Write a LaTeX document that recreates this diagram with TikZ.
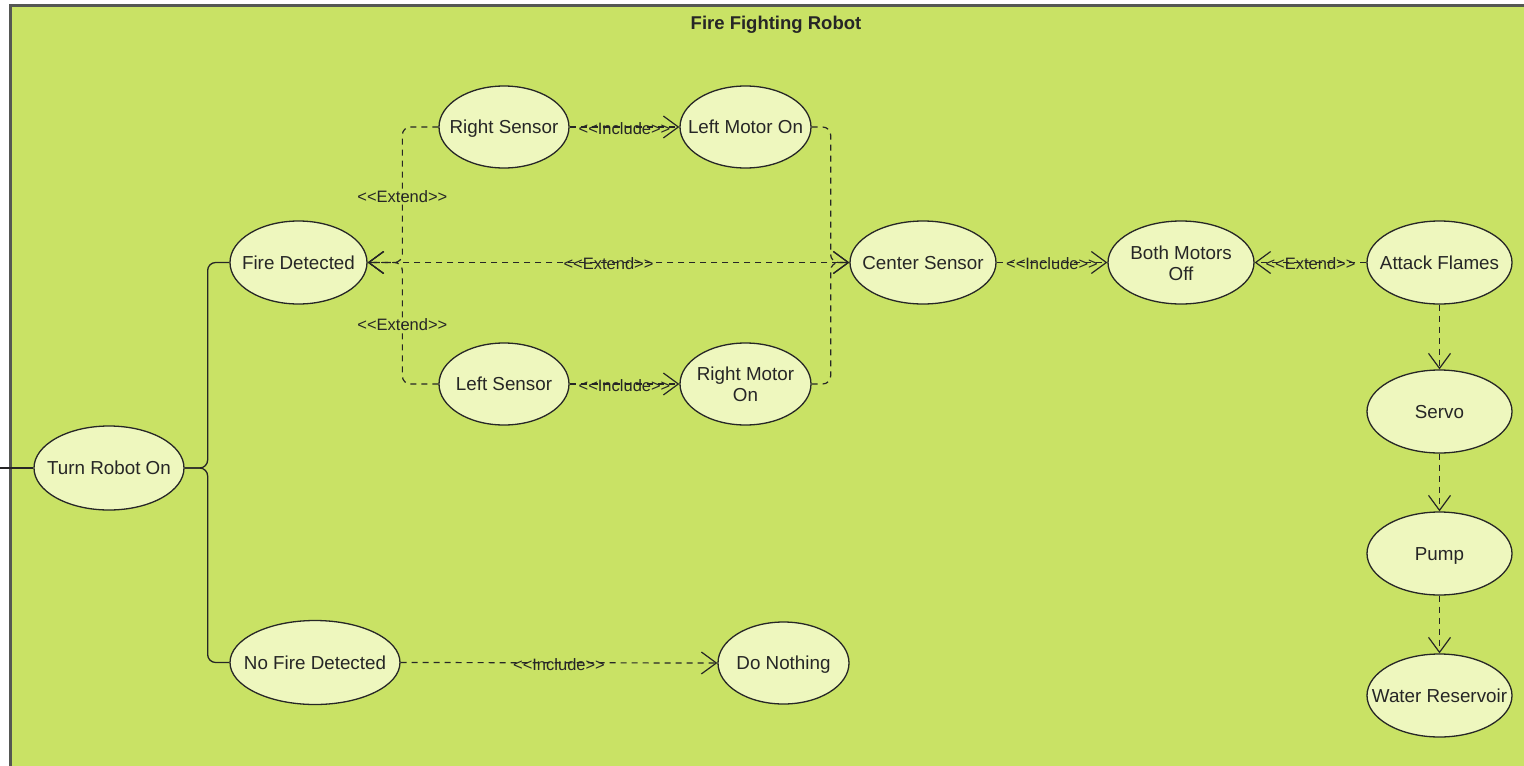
\documentclass[tikz,border=0pt]{standalone}
\usepackage{fontspec}
\setmainfont{Liberation Sans}
\usetikzlibrary{shapes.geometric,arrows.meta}
\definecolor{bg}{HTML}{C9E265}
\definecolor{ucfill}{HTML}{EEF7BE}
\definecolor{framecol}{HTML}{555753}
\definecolor{ink}{HTML}{262626}
\newcommand\uct[1]{\makebox[0pt]{\raisebox{-6.5pt}[0pt][0pt]{#1}}}
\newcommand\uctt[2]{\makebox[0pt]{\raisebox{-7.5pt}[0pt][0pt]{\begin{tabular}{@{}c@{}}#1\\#2\end{tabular}}}}
\tikzset{
  uc/.style={ellipse, draw=ink, line width=1.3pt, fill=ucfill, inner sep=0pt,
    minimum width=#1, minimum height=83pt, text=ink,
    font=\fontsize{18.8}{21}\selectfont},
  uc/.default=146pt,
  conn/.style={draw=ink, line width=1.3pt, rounded corners=8pt},
  dep/.style={draw=ink, line width=1.2pt, dash pattern=on 6pt off 5pt, rounded corners=8pt,
    -{Straight Barb[length=15pt,width=22pt,line width=1.2pt]}},
  lbl/.style={inner sep=0pt, text=ink, font=\fontsize{16.5}{18}\selectfont, yshift=-1.5pt},
  ttl/.style={inner sep=0pt, text=ink, font=\fontsize{18.5}{21}\selectfont\bfseries}
}
\begin{document}
\begin{tikzpicture}[x=1pt,y=-1pt]
\useasboundingbox (0,0) rectangle (1524,766);
\clip (0,0) rectangle (1524,766);
\fill[white] (0,0) rectangle (1524,766);
\draw[draw=framecol, line width=2.5pt, fill=bg] (10.5,5.5) rectangle (1545,790);

\node[ttl] (title) at (776,25) {Fire Fighting Robot};

\node[uc=150pt, minimum height=84pt] (tro) at (109,468) {\uct{Turn Robot On}};
\node[uc=137pt] (fd) at (298.5,262.5) {\uct{Fire Detected}};
\node[uc=170pt, minimum height=84pt] (nfd) at (315,662.5) {\uct{No Fire Detected}};
\node[uc=130pt, minimum height=82pt] (rs) at (504,127) {\uct{Right Sensor}};
\node[uc=131pt, minimum height=82pt] (lmo) at (745.5,127) {\uct{Left Motor On}};
\node[uc=130pt, minimum height=82pt] (ls) at (504,384) {\uct{Left Sensor}};
\node[uc=131pt, minimum height=82pt] (rmo) at (745.5,384) {\uctt{Right Motor}{On}};
\node[uc=146pt] (cs) at (923,262.5) {\uct{Center Sensor}};
\node[uc=146pt] (bmo) at (1181,262.5) {\uctt{Both Motors}{Off}};
\node[uc=145pt] (af) at (1439.5,262.5) {\uct{Attack Flames}};
\node[uc=145pt] (servo) at (1439.5,411.5) {\uct{Servo}};
\node[uc=145pt] (pump) at (1439.5,553.5) {\uct{Pump}};
\node[uc=145pt] (wr) at (1439.5,695.5) {\uct{Water Reservoir}};
\node[uc=131pt, minimum height=82pt] (dn) at (783.5,663) {\uct{Do Nothing}};

\coordinate (actor) at (0,468);
\draw[conn] (actor) -- (tro.west);
\draw[conn] (tro.east) -- ++(23,0) |- (fd.west);
\draw[conn] (tro.east) -- ++(23,0) |- (nfd.west);

\draw[dep] (rs.west) -- ++(-36,0) |- (fd.east) node[lbl, pos=0.25] {<{}<Extend>{}>};
\draw[dep] (ls.west) -- ++(-36,0) |- (fd.east) node[lbl, pos=0.25] {<{}<Extend>{}>};
\draw[dep] (cs.west) -- (fd.east) node[lbl, midway] {<{}<Extend>{}>};
\draw[dep] (lmo.east) -- ++(19,0) |- (cs.west);
\draw[dep] (rmo.east) -- ++(19,0) |- (cs.west);

\draw[dep] (rs.east) -- (lmo.west) node[lbl, midway] {<{}<Include>{}>};
\draw[dep] (ls.east) -- (rmo.west) node[lbl, midway] {<{}<Include>{}>};
\draw[dep] (cs.east) -- (bmo.west) node[lbl, midway] {<{}<Include>{}>};
\draw[dep] (af.west) -- (bmo.east) node[lbl, midway] {<{}<Extend>{}>};
\draw[dep] (nfd.east) -- (dn.west) node[lbl, midway] {<{}<Include>{}>};

\draw[dep] (af.south) -- (servo.north);
\draw[dep] (servo.south) -- (pump.north);
\draw[dep] (pump.south) -- (wr.north);
\end{tikzpicture}
\end{document}
